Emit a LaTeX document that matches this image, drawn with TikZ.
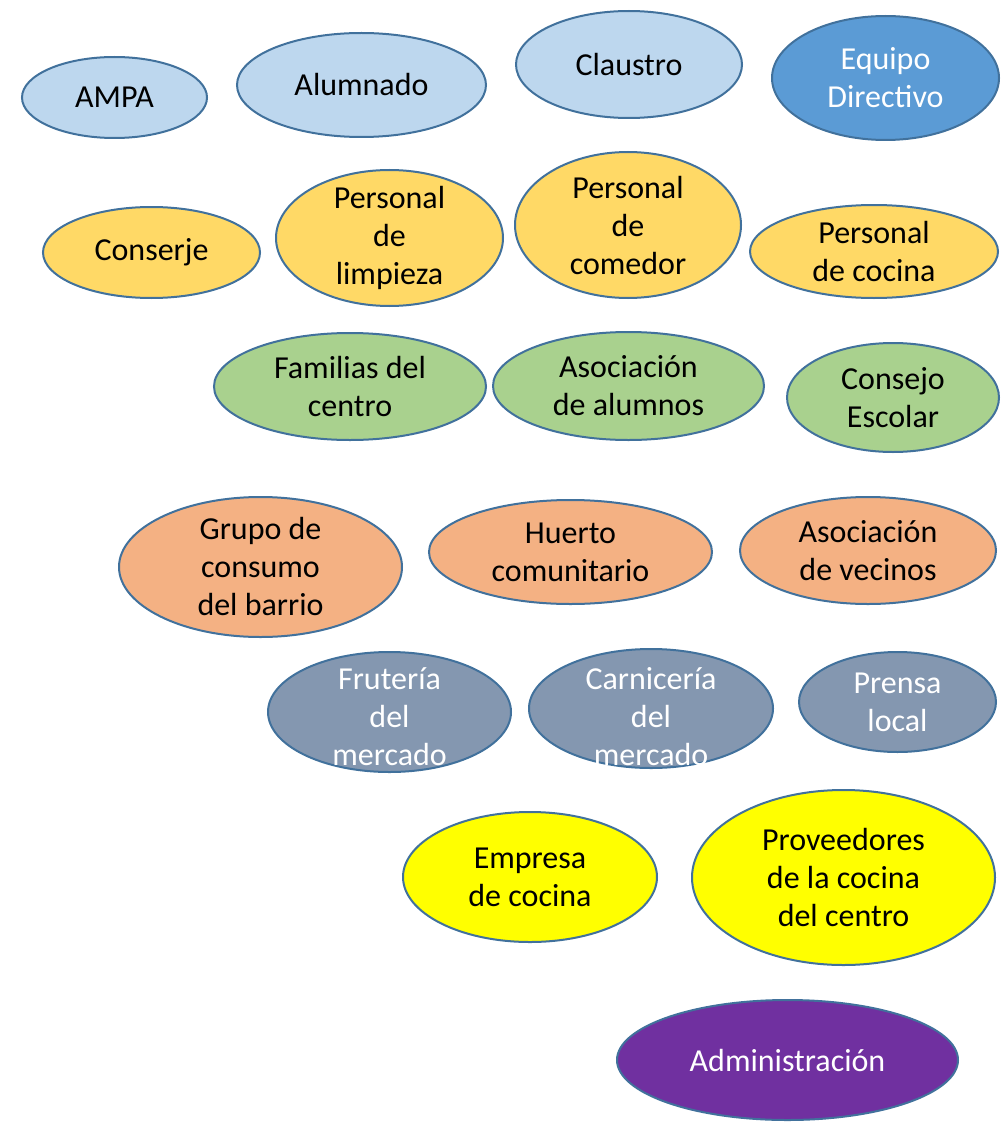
\documentclass[tikz,border=0pt]{standalone}
\usepackage{fontspec}
\setmainfont{Carlito}
\usetikzlibrary{shapes.geometric}
\definecolor{edgeblue}{HTML}{41719C}
\definecolor{lightblue}{HTML}{BDD7EE}
\definecolor{midblue}{HTML}{5B9BD5}
\definecolor{gold}{HTML}{FFD966}
\definecolor{lightgreen}{HTML}{A9D18E}
\definecolor{salmon}{HTML}{F4B183}
\definecolor{slate}{HTML}{8497B0}
\definecolor{brightyellow}{HTML}{FFFF00}
\definecolor{purple}{HTML}{7030A0}
\tikzset{
  group/.style={ellipse,draw=edgeblue,line width=1.5pt,inner sep=-12pt,align=center,
    font=\fontsize{24}{28.5}\selectfont},
  school/.style={group,fill=lightblue},
  board/.style={group,fill=midblue,text=white},
  staff/.style={group,fill=gold},
  family/.style={group,fill=lightgreen},
  barrio/.style={group,fill=salmon},
  market/.style={group,fill=slate,text=white},
  supplier/.style={group,fill=brightyellow},
  admin/.style={group,fill=purple,text=white}
}
\begin{document}
\begin{tikzpicture}[x={(0.75pt,0)},y={(0,-0.75pt)}]
\useasboundingbox (0,0) rectangle (1001,1127);
% first row
\node (ampa) at (114.5,97.5) [school,minimum width=138.75pt,minimum height=60.75pt] {AMPA};
\node (alumnado) at (361.5,85) [school,minimum width=186.75pt,minimum height=78pt] {Alumnado};
\node (claustro) at (629,64.5) [school,minimum width=169.5pt,minimum height=80.25pt] {Claustro};
\node (equipo) at (885.5,78) [board,minimum width=170.25pt,minimum height=93pt] {Equipo\\Directivo};
% staff
\node (conserje) at (151.5,252.5) [staff,minimum width=162.75pt,minimum height=68.25pt] {Conserje};
\node (limpieza) at (389.5,238) [staff,minimum width=170.25pt,minimum height=102pt] {Personal\\de\\limpieza};
\node (comedor) at (628,225) [staff,minimum width=169.5pt,minimum height=109.5pt] {Personal\\de\\comedor};
\node (cocina) at (874,251.5) [staff,minimum width=186pt,minimum height=69.75pt] {Personal\\de cocina};
% families
\node (familias) at (350,386.5) [family,minimum width=204pt,minimum height=80.25pt] {Familias del\\centro};
\node (asocalumnos) at (628.5,386) [family,minimum width=203.25pt,minimum height=81pt] {Asociación\\de alumnos};
\node (consejo) at (893,397.5) [family,minimum width=159pt,minimum height=81.75pt] {Consejo\\Escolar};
% neighbourhood
\node (consumo) at (260.5,567) [barrio,minimum width=212.25pt,minimum height=105pt] {Grupo de\\consumo\\del barrio};
\node (huerto) at (570.5,552) [barrio,minimum width=212.25pt,minimum height=78pt] {Huerto\\comunitario};
\node (vecinos) at (868,550.5) [barrio,minimum width=192pt,minimum height=80.25pt] {Asociación\\de vecinos};
% market and press
\node (fruteria) at (389.5,712) [market,minimum width=182.25pt,minimum height=90pt,text height=81pt] {Frutería\\del\\mercado};
\node (carniceria) at (651,708.5) [market,minimum width=183pt,minimum height=89.25pt,text height=86pt] {Carnicería\\del\\mercado};
\node (prensa) at (897.5,702) [market,minimum width=147.75pt,minimum height=75pt] {Prensa\\local};
% suppliers
\node (empresa) at (530,877) [supplier,minimum width=190.5pt,minimum height=97.5pt] {Empresa\\de cocina};
\node (proveedores) at (843.5,877.5) [supplier,minimum width=227.25pt,minimum height=131.25pt] {Proveedores\\de la cocina\\del centro};
\node (administracion) at (787.5,1060) [admin,minimum width=255.75pt,minimum height=90pt] {Administración};
\end{tikzpicture}
\end{document}
